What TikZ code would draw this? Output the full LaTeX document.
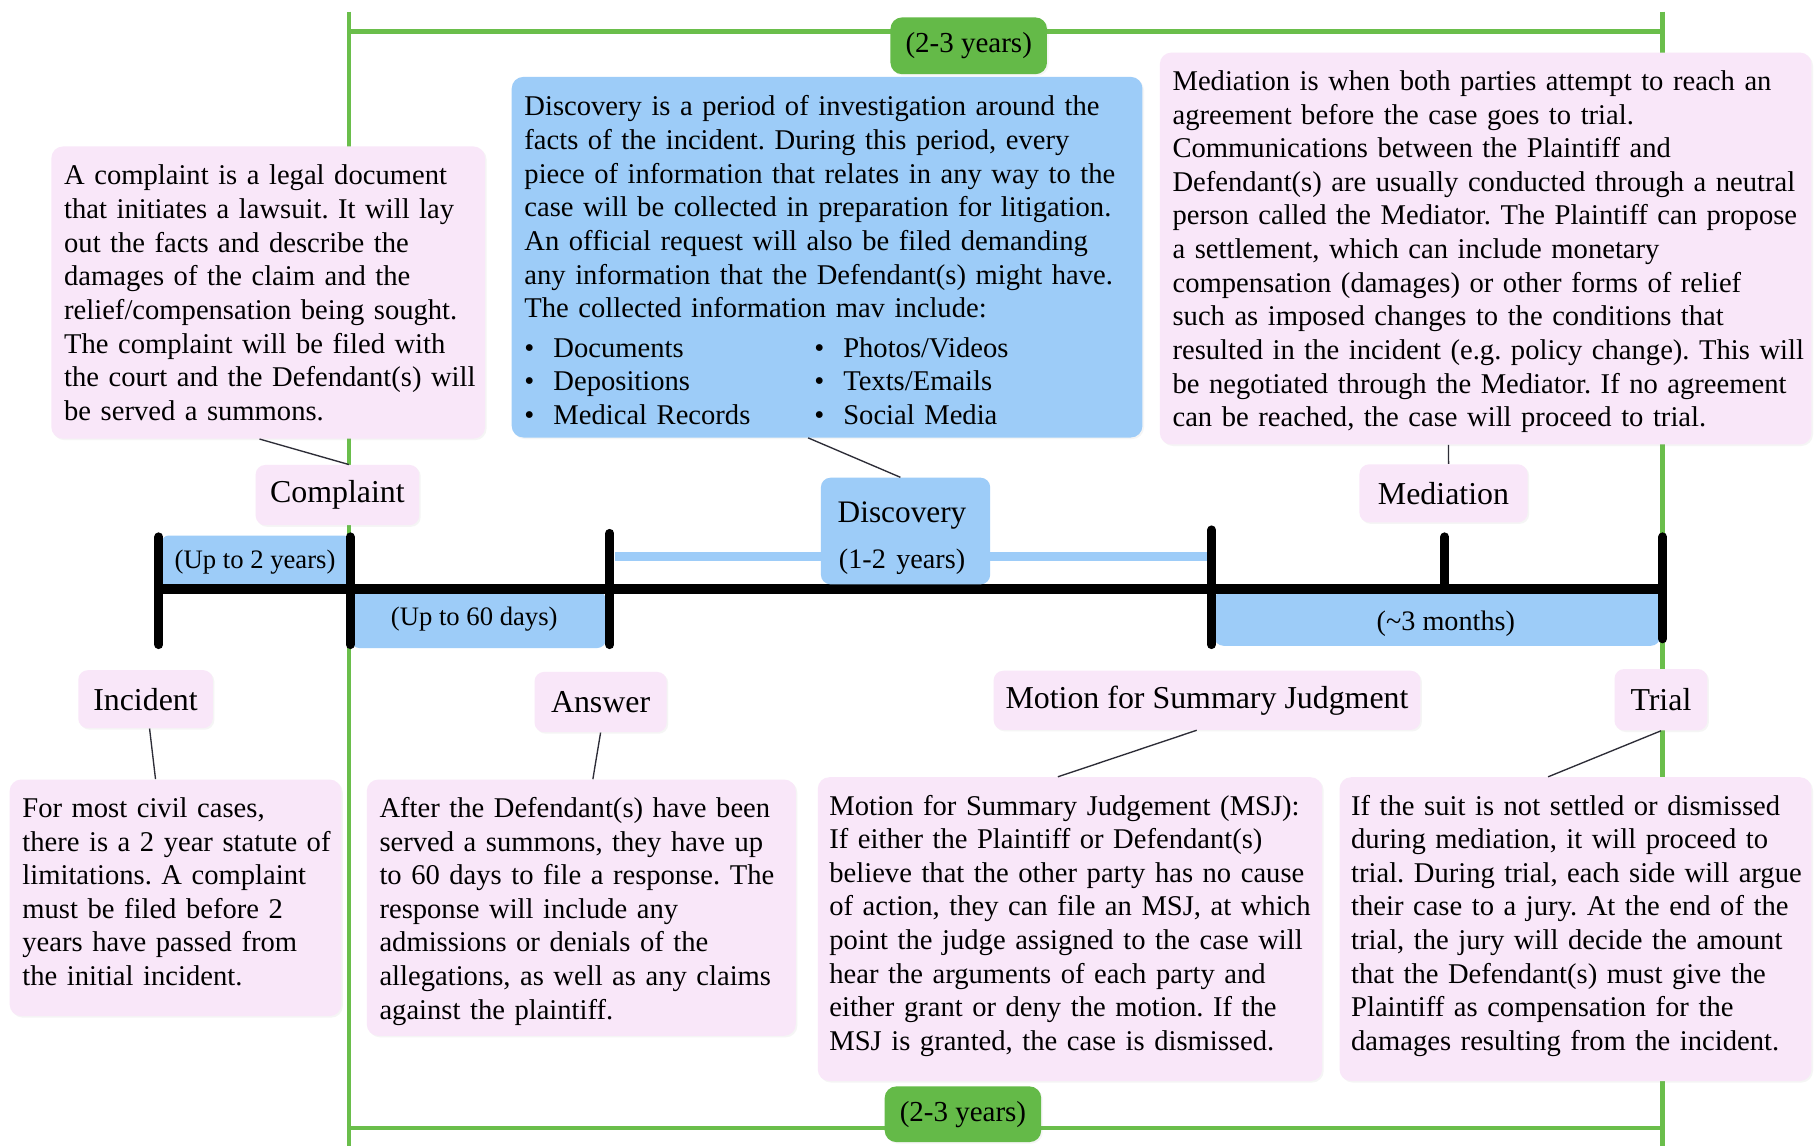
\documentclass[tikz,border=0pt]{standalone}
\usepackage{fontspec}
\setmainfont{Liberation Serif}
\frenchspacing
\usetikzlibrary{calc,shadows}
\definecolor{pinkbg}{RGB}{249,231,249}
\definecolor{bluebg}{RGB}{157,204,248}
\definecolor{greenln}{RGB}{106,190,75}
\definecolor{greenbg}{RGB}{100,186,72}
\definecolor{connclr}{RGB}{45,45,55}
\newcommand\bitem[1]{\makebox[15pt][l]{\textbullet}#1}
\newcommand\bpair[2]{\makebox[150pt][l]{\bitem{#1}}\bitem{#2}}
\begin{document}
\begin{tikzpicture}[x=0.6pt,y=-0.6pt,
  wh/.style 2 args={minimum width=#1*0.6pt, minimum height=#2*0.6pt},
  soft/.style={drop shadow={shadow xshift=0.8pt, shadow yshift=-0.8pt, opacity=0.08}},
  desc/.style={fill=pinkbg, rounded corners=6pt, anchor=north west, inner sep=0pt, soft},
  body/.style={anchor=base west, align=left, inner sep=0pt, font=\fontsize{14.8pt}{17.4pt}\selectfont},
  lab/.style={fill=pinkbg, rounded corners=5pt, inner sep=0pt, soft, font=\fontsize{16.5pt}{19pt}\selectfont},
  span/.style={fill=bluebg, inner sep=0pt},
  spantxt/.style={inner sep=0pt, font=\fontsize{13.8pt}{16pt}\selectfont},
  glab/.style={fill=greenbg, rounded corners=6pt, inner sep=0pt, soft, font=\fontsize{15pt}{17pt}\selectfont},
  gl/.style={draw=greenln, line width=2.4pt},
  tick/.style={line width=4.6pt, line cap=round},
  conn/.style={draw=connclr, line width=0.7pt}
]
\fill[white] (0,0) rectangle (1568,988);
\path[use as bounding box] (0,0) rectangle (1568,988);

% green bracket lines
\draw[gl] (301,10) -- (301,988);
\draw[gl] (1434,10) -- (1434,988);
\draw[gl] (301,27) -- (1434,27);
\draw[gl] (301,973) -- (1434,973);

% discovery bar
\draw[draw=bluebg, line width=4.8pt] (530,480) -- (1043,480);

% span boxes
\node[span, wh={162}{45}, rounded corners=3pt] (s1) at (221,484.5) {};
\node[spantxt] (s1t) at (220,485) {(Up to 2 years)};
\node[span, wh={221}{49}, rounded corners=5pt] (s2) at (412.5,534.5) {};
\node[spantxt] (s2t) at (409,534) {(Up to 60 days)};
\node[span, wh={385}{47}, rounded corners=5pt] (s3) at (1239.5,533.5) {};
\node[spantxt, font=\fontsize{14.6pt}{16pt}\selectfont] (s3t) at (1247,538) {(\textasciitilde3 months)};

% timeline
\draw[line width=4.8pt] (137,508) -- (1434,508);
\draw[tick] (137,463) -- (137,556);
\draw[tick] (302,463) -- (302,556);
\draw[tick] (526,460) -- (526,556);
\draw[tick] (1045,457) -- (1045,556);
\draw[tick] (1246,463) -- (1246,508);
\draw[tick] (1434,463) -- (1434,551);

% description boxes
\node[desc, wh={374}{252}] (cbox) at (44,126) {};
\node[body, text width=224pt] (ctext) at ($(cbox.north west)+(11,33.5)$) {A complaint is a legal document\\
that initiates a lawsuit. It will lay\\
out the facts and describe the\\
damages of the claim and the\\
relief/compensation being sought.\\
The complaint will be filed with\\
the court and the Defendant(s) will\\
be served a summons.};

\node[desc, fill=bluebg, wh={544}{311}] (dbox) at (441,66) {};
\node[body, text width=326pt] (dtext) at ($(dbox.north west)+(11,34)$) {Discovery is a period of investigation around the\\
facts of the incident. During this period, every\\
piece of information that relates in any way to the\\
case will be collected in preparation for litigation.\\
An official request will also be filed demanding\\
any information that the Defendant(s) might have.\\
The collected information mav include:\\[3pt]
\bpair{Documents}{Photos/Videos}\\
\bpair{Depositions}{Texts/Emails}\\
\bpair{Medical Records}{Social Media}};

\node[desc, wh={562}{338}] (mbox) at (1000,45) {};
\node[body, text width=337pt] (mtext) at ($(mbox.north west)+(11,33)$) {Mediation is when both parties attempt to reach an\\
agreement before the case goes to trial.\\
Communications between the Plaintiff and\\
Defendant(s) are usually conducted through a neutral\\
person called the Mediator. The Plaintiff can propose\\
a settlement, which can include monetary\\
compensation (damages) or other forms of relief\\
such as imposed changes to the conditions that\\
resulted in the incident (e.g. policy change). This will\\
be negotiated through the Mediator. If no agreement\\
can be reached, the case will proceed to trial.};

\node[desc, wh={286}{204}] (ibox) at (8,672) {};
\node[body, text width=171pt] (itext) at ($(ibox.north west)+(11,33)$) {For most civil cases,\\
there is a 2 year statute of\\
limitations. A complaint\\
must be filed before 2\\
years have passed from\\
the initial incident.};

\node[desc, wh={370}{221}] (abox) at (316,672) {};
\node[body, text width=222pt] (atext) at ($(abox.north west)+(11,33)$) {After the Defendant(s) have been\\
served a summons, they have up\\
to 60 days to file a response. The\\
response will include any\\
admissions or denials of the\\
allegations, as well as any claims\\
against the plaintiff.};

\node[desc, wh={435}{262}] (sbox) at (705,670) {};
\node[body, text width=261pt] (stext) at ($(sbox.north west)+(10,33)$) {Motion for Summary Judgement (MSJ):\\
If either the Plaintiff or Defendant(s)\\
believe that the other party has no cause\\
of action, they can file an MSJ, at which\\
point the judge assigned to the case will\\
hear the arguments of each party and\\
either grant or deny the motion. If the\\
MSJ is granted, the case is dismissed.};

\node[desc, wh={407}{262}] (tbox) at (1155,670) {};
\node[body, text width=244pt] (ttext) at ($(tbox.north west)+(10,33)$) {If the suit is not settled or dismissed\\
during mediation, it will proceed to\\
trial. During trial, each side will argue\\
their case to a jury. At the end of the\\
trial, the jury will decide the amount\\
that the Defendant(s) must give the\\
Plaintiff as compensation for the\\
damages resulting from the incident.};

% event labels
\node[lab, wh={141}{52}] (lcompl) at (291,427) {Complaint};
\node[lab, wh={145}{50}] (lmed) at (1245,425.5) {Mediation};
\node[lab, wh={116}{50}] (linc) at (125.5,603) {Incident};
\node[lab, wh={114}{52}] (lans) at (518,605.5) {Answer};
\node[lab, wh={368}{51}] (lmsj) at (1041,604) {Motion for Summary Judgment};
\node[lab, wh={80}{53}] (ltrial) at (1432.5,603.5) {Trial};
\node[fill=bluebg, rounded corners=5pt, inner sep=0pt, wh={146}{92}] (ldisc) at (781,458) {};
\node[inner sep=0pt, text width=90pt, align=center, anchor=base, font=\fontsize{16.2pt}{23.4pt}\selectfont] (ldisct) at (778,451)
  {Discovery\\{\fontsize{14.6pt}{23.4pt}\selectfont (1-2 years)}};

% connectors
\draw[conn] ($(cbox.south west)!0.48!(cbox.south east)$) -- ($(lcompl.north west)!0.57!(lcompl.north east)$);
\draw[conn] ($(dbox.south west)!0.47!(dbox.south east)$) -- ($(ldisc.north west)!0.47!(ldisc.north east)$);
\draw[conn] ($(mbox.south west)!0.443!(mbox.south east)$) -- ($(lmed.north west)!0.53!(lmed.north east)$);
\draw[conn] ($(linc.south west)!0.53!(linc.south east)$) -- ($(ibox.north west)!0.44!(ibox.north east)$);
\draw[conn] ($(lans.south west)!0.5!(lans.south east)$) -- ($(abox.north west)!0.527!(abox.north east)$);
\draw[conn] ($(lmsj.south west)!0.476!(lmsj.south east)$) -- ($(sbox.north west)!0.476!(sbox.north east)$);
\draw[conn] ($(ltrial.south west)!0.5!(ltrial.south east)$) -- ($(tbox.north west)!0.442!(tbox.north east)$);

% green duration labels
\node[glab, wh={135}{49}] (gtop) at (835.5,39.5) {(2-3 years)};
\node[glab, wh={135}{48}] (gbot) at (830.5,961) {(2-3 years)};
\end{tikzpicture}
\end{document}
